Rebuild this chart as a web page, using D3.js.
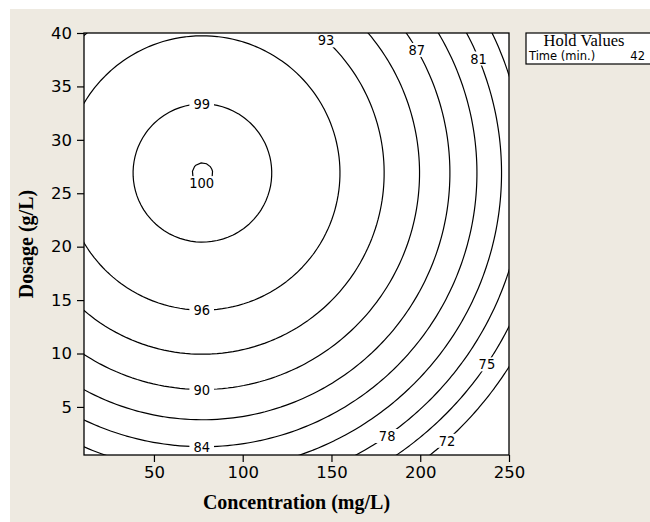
<!DOCTYPE html>
<html>
<head>
<meta charset="utf-8">
<style>
html, body { margin: 0; padding: 0; background: #fff; }
svg { display: block; }
.tick text { font-family: "DejaVu Sans", sans-serif; font-size: 16.5px; fill: #000; }
.tick line { stroke: #000; }
.axis-title { font-family: "Liberation Serif", serif; font-weight: bold; font-size: 20px; fill: #000; }
.contour { fill: none; stroke: #000; stroke-width: 1.2px; }
.clabel { font-family: "DejaVu Sans Condensed", "DejaVu Sans", sans-serif; font-size: 14.5px; fill: #000; }
.legend-title { font-family: "Liberation Serif", serif; font-size: 16.5px; }
.legend-text { font-family: "DejaVu Sans", sans-serif; font-size: 11.5px; }
</style>
<script src="https://cdn.jsdelivr.net/npm/d3@7"></script>
</head>
<body>
<svg id="chart" width="650" height="522"></svg>
<script>
// fitted response surface (quadratic, no interaction)
var peakValue = 100.023;
var peakAt = [77.3, 26.9];            // Concentration, Dosage at the optimum
var curvature = [0.00067, 0.0244];    // drop per unit^2 along each axis

var contourLevels = [72, 75, 78, 81, 84, 87, 90, 93, 96, 99, 100];
// where each level's label sits (data coords, nearest point on the line)
var labelLevels = [99, 100, 96, 90, 84, 93, 87, 81, 75, 78, 72];
var labelAtX = [77, 77, 77, 77, 77, 146, 198, 234, 236.5, 182, 215];
var labelAtY = [34, 26, 14, 6.6, 1.4, 39.2, 38.4, 37.7, 9.1, 2.1, 1.85];

var xDomain = [10.6, 250];
var yDomain = [0.5, 40];
var xTicks = [50, 100, 150, 200, 250];
var yTicks = [5, 10, 15, 20, 25, 30, 35, 40];

var holdName = "Time (min.)";
var holdValue = 42;

var svg = d3.select("#chart");
var W = 650, H = 522;
var plot = { left: 84, top: 33, right: 509, bottom: 455 };

// figure background
svg.append("rect").attr("width", W).attr("height", H).attr("fill", "#fff");
svg.append("rect").attr("x", 10).attr("y", 9).attr("width", W - 10).attr("height", H - 9)
   .attr("fill", "#eeeae1");

var x = d3.scaleLinear().domain(xDomain).range([plot.left, plot.right]);
var y = d3.scaleLinear().domain(yDomain).range([plot.bottom, plot.top]);

svg.append("defs").append("clipPath").attr("id", "plotclip")
  .append("rect")
    .attr("x", plot.left).attr("y", plot.top)
    .attr("width", plot.right - plot.left).attr("height", plot.bottom - plot.top);

svg.append("rect")
  .attr("x", plot.left).attr("y", plot.top)
  .attr("width", plot.right - plot.left).attr("height", plot.bottom - plot.top)
  .attr("fill", "#fff");

// grid of fitted values, a bit wider than the plot so edges get clipped
function surface(cx, dy) {
  return peakValue - curvature[0] * Math.pow(cx - peakAt[0], 2)
                   - curvature[1] * Math.pow(dy - peakAt[1], 2);
}
var sx = 3, sy = 0.45;
var gx0 = xDomain[0] - 2 * sx, gy0 = yDomain[0] - 2 * sy;
var nx = Math.ceil((xDomain[1] - xDomain[0]) / sx) + 5;
var ny = Math.ceil((yDomain[1] - yDomain[0]) / sy) + 5;
var grid = new Array(nx * ny);
for (var j = 0; j < ny; j++)
  for (var i = 0; i < nx; i++)
    grid[j * nx + i] = surface(gx0 + i * sx, gy0 + j * sy);

function toScreen(p) {
  return [x(gx0 + (p[0] - 0.5) * sx), y(gy0 + (p[1] - 0.5) * sy)];
}

var contours = d3.contours().size([nx, ny]).thresholds(contourLevels)(grid);
var line = d3.line();

var cg = svg.append("g").attr("clip-path", "url(#plotclip)");
var ringsByLevel = {};
contours.forEach(function(c) {
  var rings = [];
  c.coordinates.forEach(function(poly) {
    poly.forEach(function(ring) {
      rings.push(ring.map(toScreen));
    });
  });
  ringsByLevel[c.value] = rings;
  cg.selectAll(null)
    .data(rings)
    .enter().append("path")
      .attr("class", "contour")
      .attr("d", function(r) { return line(r) + "Z"; });
});

// contour labels with a white gap behind them
var lg = svg.append("g");
labelLevels.forEach(function(lev, k) {
  var hx = x(labelAtX[k]), hy = y(labelAtY[k]);
  var best = null, bestD = Infinity;
  (ringsByLevel[lev] || []).forEach(function(r) {
    for (var m = 0; m < r.length; m++) {
      var a = r[m], b = r[(m + 1) % r.length];
      for (var t = 0; t <= 1; t += 0.1) {
        var px = a[0] + (b[0] - a[0]) * t, py = a[1] + (b[1] - a[1]) * t;
        var d = (px - hx) * (px - hx) + (py - hy) * (py - hy);
        if (d < bestD) { bestD = d; best = [px, py]; }
      }
    }
  });
  if (!best) return;
  var g = lg.append("g").attr("transform", "translate(" + best[0] + "," + best[1] + ")");
  var bg = g.append("rect").attr("fill", "#fff");
  var tx = g.append("text").attr("class", "clabel")
    .attr("text-anchor", "middle").attr("dy", "0.36em").text(lev);
  var bb = tx.node().getBBox();
  bg.attr("x", bb.x - 4).attr("y", bb.y + 1).attr("width", bb.width + 8).attr("height", bb.height - 2);
});

// frame
svg.append("rect")
  .attr("x", plot.left).attr("y", plot.top)
  .attr("width", plot.right - plot.left).attr("height", plot.bottom - plot.top)
  .attr("fill", "none").attr("stroke", "#000").attr("stroke-width", 1.3);

var xAxis = svg.append("g")
  .attr("transform", "translate(0," + plot.bottom + ")")
  .call(d3.axisBottom(x).tickValues(xTicks).tickSize(7).tickPadding(4));
xAxis.select(".domain").remove();

var yAxis = svg.append("g")
  .attr("transform", "translate(" + plot.left + ",0)")
  .call(d3.axisLeft(y).tickValues(yTicks).tickSize(7).tickPadding(5));
yAxis.select(".domain").remove();
svg.selectAll(".tick line").attr("stroke-width", 1.2);

svg.append("text").attr("class", "axis-title")
  .attr("x", (plot.left + plot.right) / 2).attr("y", 509)
  .attr("text-anchor", "middle")
  .text("Concentration (mg/L)");

svg.append("text").attr("class", "axis-title")
  .attr("transform", "translate(33," + (plot.top + plot.bottom) / 2 + ") rotate(-90)")
  .attr("text-anchor", "middle")
  .text("Dosage (g/L)");

// hold values box
var leg = svg.append("g");
leg.append("rect").attr("x", 526).attr("y", 33).attr("width", 140).attr("height", 31)
  .attr("fill", "#fff").attr("stroke", "#000").attr("stroke-width", 1.2);
leg.append("text").attr("class", "legend-title")
  .attr("x", 584).attr("y", 46).attr("text-anchor", "middle").text("Hold Values");
leg.append("text").attr("class", "legend-text")
  .attr("x", 529).attr("y", 60).text(holdName);
leg.append("text").attr("class", "legend-text")
  .attr("x", 645).attr("y", 60).attr("text-anchor", "end").text(holdValue);
</script>
</body>
</html>
